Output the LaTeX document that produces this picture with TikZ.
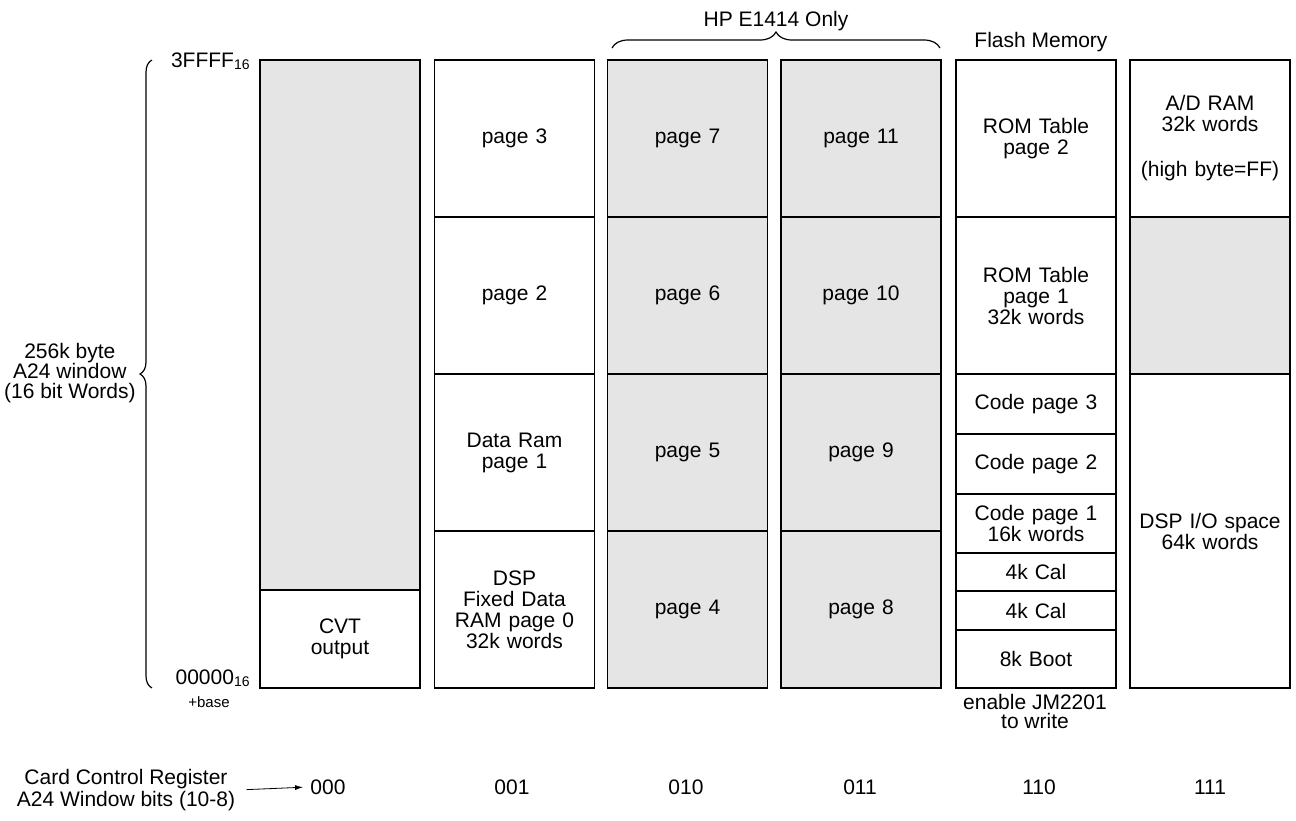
\documentclass[tikz,border=0pt]{standalone}
\usepackage{fontspec}
\setmainfont{Liberation Sans}
\usetikzlibrary{decorations.pathreplacing,arrows.meta}
\newcommand\hexsub[1]{\raisebox{-0.2ex}{\fontsize{7}{7}\selectfont #1}}
\begin{document}
\begin{tikzpicture}[x=0.5pt,y=-0.5pt,
  every node/.style={font=\fontsize{10.5}{10.5}\selectfont, inner sep=1pt},
  cell/.style={draw=black, line width=0.7pt, minimum width=80pt, inner sep=0pt,
    align=center, text width=78pt},
  shaded/.style={cell, fill=black!10},
  plain/.style={cell, fill=white},
  lbl/.style={align=center},
  bracestyle/.style={decorate, line width=0.6pt},
  code/.style={lbl}]
\useasboundingbox (0,0) rectangle (1296,820);

% column 000
\node[shaded, minimum height=265pt] (c0a) at (340,325) {};
\node[plain, minimum height=49pt] (c0b) at (340,639) {CVT\\output};

% column 001
\node[plain, minimum height=78.5pt] (c1a) at (514.5,138.5) {page 3};
\node[plain, minimum height=78.5pt] (c1b) at (514.5,295.5) {page 2};
\node[plain, minimum height=78.5pt] (c1c) at (514.5,452.5) {Data Ram\\page 1};
\node[plain, minimum height=78.5pt] (c1d) at (514.5,609.5) {DSP\\Fixed Data\\RAM page 0\\32k words};

% column 010
\node[shaded, minimum height=78.5pt] (c2a) at (687.5,138.5) {page 7};
\node[shaded, minimum height=78.5pt] (c2b) at (687.5,295.5) {page 6};
\node[shaded, minimum height=78.5pt] (c2c) at (687.5,452.5) {page 5};
\node[shaded, minimum height=78.5pt] (c2d) at (687.5,609.5) {page 4};

% column 011
\node[shaded, minimum height=78.5pt] (c3a) at (861,138.5) {page 11};
\node[shaded, minimum height=78.5pt] (c3b) at (861,295.5) {page 10};
\node[shaded, minimum height=78.5pt] (c3c) at (861,452.5) {page 9};
\node[shaded, minimum height=78.5pt] (c3d) at (861,609.5) {page 8};

% column 110
\node[plain, minimum height=78.5pt] (c4a) at (1036,138.5) {ROM Table\\page 2};
\node[plain, minimum height=78.5pt] (c4b) at (1036,295.5) {ROM Table\\page 1\\32k words};
\node[plain, minimum height=30pt] (c4c) at (1036,404) {Code page 3};
\node[plain, minimum height=30pt] (c4d) at (1036,464) {Code page 2};
\node[plain, minimum height=29.5pt] (c4e) at (1036,523.5) {Code page 1\\16k words};
\node[plain, minimum height=19pt] (c4f) at (1036,572) {4k Cal};
\node[plain, minimum height=19.5pt] (c4g) at (1036,610.5) {4k Cal};
\node[plain, minimum height=29pt] (c4h) at (1036,659) {8k Boot};

% column 111
\node[plain, minimum height=78.5pt] (c5a) at (1210,138.5) {A/D RAM\\32k words\\[12pt](high byte=FF)};
\node[shaded, minimum height=78.5pt] (c5b) at (1210,295.5) {};
\node[plain, minimum height=157pt] (c5c) at (1210,531) {DSP I/O space\\64k words};

% left brace and address labels
\coordinate (lbA) at (152,688);
\coordinate (lbB) at (152,60);
\draw[bracestyle, decoration={brace, amplitude=6pt}] (lbA) -- (lbB);
\node[lbl, anchor=east, font=\fontsize{10.5}{10}\selectfont] (win) at (138,373) {256k byte\\A24 window\\(16 bit Words)};
\node[anchor=east] (hi) at (252,61) {3FFFF\hexsub{16}};
\node[anchor=east] (lo) at (252,678) {00000\hexsub{16}};
\node[font=\fontsize{7.5}{8}\selectfont] (base) at (209,702) {+base};

% top brace
\coordinate (tbA) at (612,48);
\coordinate (tbB) at (940,48);
\draw[bracestyle, decoration={brace, amplitude=8pt}] (tbA) -- (tbB);
\node (hp) at (776,21) {HP E1414 Only};
\node (flash) at (1041,42) {Flash Memory};
\node[lbl, font=\fontsize{10.5}{9.5}\selectfont] (en) at (1035,711) {enable JM2201\\to write};

% bottom register row
\node[lbl, font=\fontsize{10.5}{9}\selectfont] (ccr) at (126,790) {Card Control Register\\A24 Window bits (10-8)};
\node[code] (b0) at (328,787) {000};
\node[code] (b1) at (512,787) {001};
\node[code] (b2) at (686,787) {010};
\node[code] (b3) at (860,787) {011};
\node[code] (b6) at (1039,787) {110};
\node[code] (b7) at (1210,787) {111};
\draw[-{Latex[length=4pt,width=2.5pt]}, line width=0.4pt, shorten <=4.5pt, shorten >=2.5pt] (ccr.east) -- (b0.west);
\end{tikzpicture}
\end{document}
